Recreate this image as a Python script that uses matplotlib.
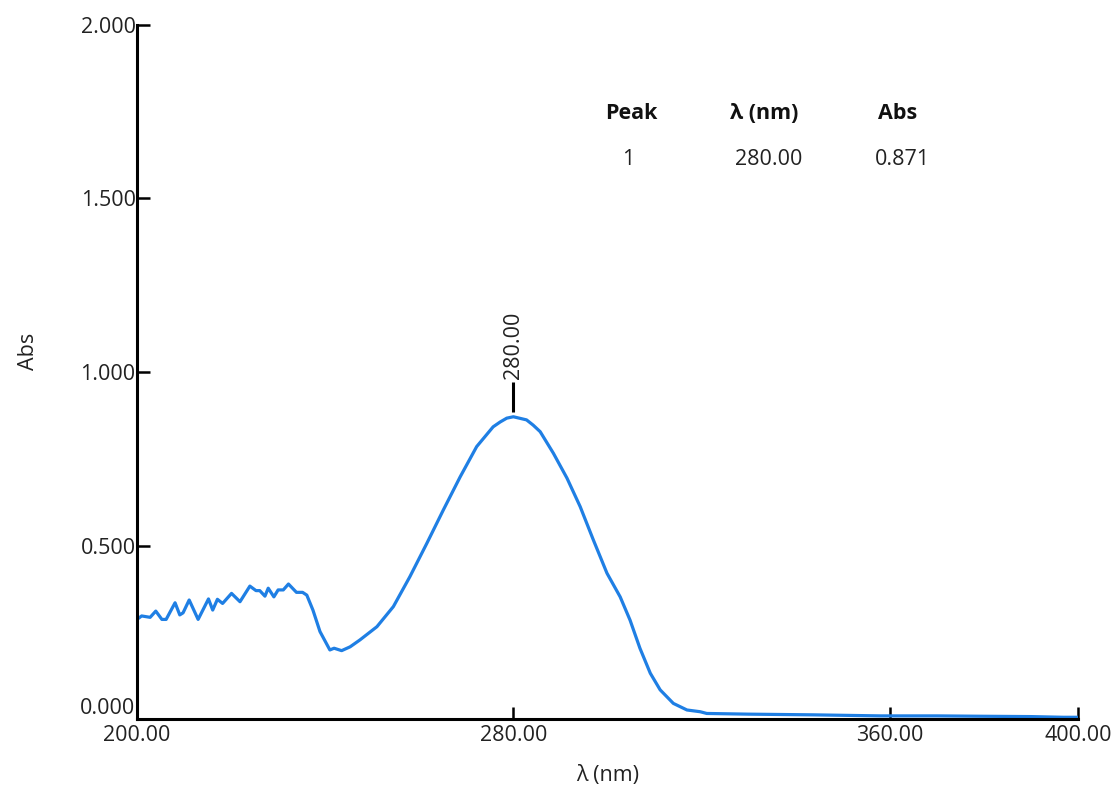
import matplotlib
matplotlib.use("Agg")
from matplotlib import pyplot as plt
import matplotlib.transforms as mtransforms

plt.rcParams['font.family'] = ['Open Sans', 'DejaVu Sans']

# UV-Vis absorbance spectrum, wavelength in nm
wavelength = [200.0, 201.0, 202.8, 204.0, 205.3, 206.2, 208.1, 209.1, 209.8, 211.1,
              213.0, 215.2, 216.1, 217.1, 218.2, 220.1, 221.9, 224.0, 225.3, 226.1,
              227.2, 227.9, 229.1, 230.0, 231.1, 232.2, 233.9, 235.2, 236.1, 237.4,
              238.9, 241.0, 241.9, 243.5, 245.3, 247.4, 251.0, 254.5, 258.0, 261.6,
              265.1, 268.7, 272.2, 275.7, 277.2, 278.6, 280.0, 282.8, 284.2, 285.7,
              288.5, 291.4, 294.2, 297.0, 299.9, 302.7, 304.8, 306.9, 309.1, 311.2,
              314.0, 316.9, 319.7, 321.1, 330.0, 343.8, 358.0, 370.0, 379.0, 390.0,
              396.9, 400.0]
absorbance = [0.287, 0.297, 0.293, 0.311, 0.287, 0.287, 0.335, 0.300, 0.306, 0.343,
              0.287, 0.346, 0.314, 0.345, 0.333, 0.362, 0.338, 0.383, 0.370, 0.370,
              0.354, 0.377, 0.352, 0.372, 0.372, 0.389, 0.365, 0.365, 0.357, 0.314,
              0.252, 0.199, 0.204, 0.197, 0.208, 0.228, 0.266, 0.324, 0.410, 0.506,
              0.602, 0.698, 0.785, 0.842, 0.856, 0.867, 0.871, 0.862, 0.847, 0.828,
              0.766, 0.694, 0.612, 0.516, 0.420, 0.352, 0.285, 0.204, 0.132, 0.084,
              0.045, 0.026, 0.021, 0.016, 0.014, 0.012, 0.009, 0.009, 0.008, 0.007,
              0.005, 0.005]

# peak table
peak_no = 1
peak_wl = 280.00
peak_abs = 0.871

x_ticks = [200, 280, 360, 400]
y_ticks = [0.0, 0.5, 1.0, 1.5, 2.0]

fig = plt.figure(figsize=(11.18, 7.93), dpi=100)
ax = fig.add_axes([0.1225, 0.0933, 0.8417, 0.8752])

ax.plot(wavelength, absorbance, color='#1f7fe4', linewidth=2.3)

ax.set_xlim(200, 400)
ax.set_ylim(0, 2.0)
ax.set_xticks(x_ticks)
ax.set_xticklabels(['%.2f' % v for v in x_ticks])
ax.set_yticks(y_ticks)
ax.set_yticklabels(['%.3f' % v for v in y_ticks])

for side in ['top', 'right']:
    ax.spines[side].set_visible(False)
for side in ['left', 'bottom']:
    ax.spines[side].set_linewidth(2.2)
    ax.spines[side].set_color('black')

ax.tick_params(axis='both', direction='in', length=9, width=1.8, colors='black',
               labelcolor='#222222', labelsize=15.5)
ax.tick_params(axis='y', pad=1)
ax.tick_params(axis='x', pad=4)

# lift the 0.000 label a little off the x axis
lbl0 = ax.get_yticklabels()[0]
lbl0.set_transform(lbl0.get_transform() +
                   mtransforms.ScaledTranslation(0, 13 / 100, fig.dpi_scale_trans))

ax.set_xlabel('λ (nm)', fontsize=15.5, color='#222222', labelpad=14)
ax.set_ylabel('Abs', fontsize=15.5, color='#222222')
ax.yaxis.set_label_coords(-0.104, 0.53)

# peak marker
ax.vlines(peak_wl, peak_abs + 0.015, peak_abs + 0.1, color='black', linewidth=2.2)
ax.text(peak_wl, peak_abs + 0.11, '%.2f' % peak_wl, rotation=90, ha='center', va='bottom',
        fontsize=15.5, color='#222222')

# peak table
hdr_y = 0.872
row_y = 0.806
ax.text(0.525, hdr_y, 'Peak', transform=ax.transAxes, ha='center', va='center',
        fontsize=15.5, fontweight='bold', color='#111111')
ax.text(0.667, hdr_y, 'λ (nm)', transform=ax.transAxes, ha='center', va='center',
        fontsize=15.5, fontweight='bold', color='#111111')
ax.text(0.808, hdr_y, 'Abs', transform=ax.transAxes, ha='center', va='center',
        fontsize=15.5, fontweight='bold', color='#111111')
ax.text(0.522, row_y, str(peak_no), transform=ax.transAxes, ha='center', va='center',
        fontsize=15.5, color='#222222')
ax.text(0.671, row_y, '%.2f' % peak_wl, transform=ax.transAxes, ha='center', va='center',
        fontsize=15.5, color='#222222')
ax.text(0.813, row_y, '%.3f' % peak_abs, transform=ax.transAxes, ha='center', va='center',
        fontsize=15.5, color='#222222')

fig.savefig('out.png', dpi=100)
